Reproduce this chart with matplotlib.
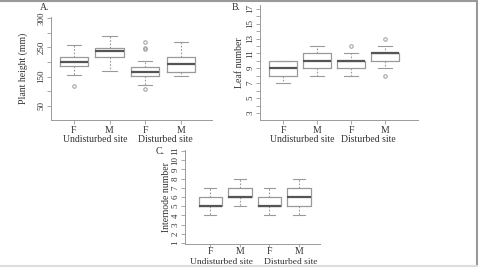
import matplotlib
matplotlib.use('Agg')
import matplotlib.pyplot as plt
from matplotlib.lines import Line2D

plt.rcParams['font.family'] = 'Liberation Serif'

W, H = 478, 267
groups = ['F', 'M', 'F', 'M']
sites = ['Undisturbed site', 'Disturbed site']

# A. plant height (mm)
a_med = [200, 237, 166, 194]
a_q1 = [186, 216, 152, 166]
a_q3 = [216, 247, 182, 218]
a_lo = [155, 169, 122, 151]
a_hi = [256, 289, 202, 268]
a_out = [[119], [], [269, 249, 243, 107], []]
a_ticks = [50, 100, 150, 200, 250, 300, 350]
a_ticklabels = ['50', '', '150', '', '250', '', '300']

# B. leaf number
b_med = [9, 10, 10, 11]
b_q1 = [8, 9, 9, 10]
b_q3 = [10, 11, 10, 11]
b_lo = [7, 8, 8, 9]
b_hi = [10, 12, 11, 12]
b_out = [[], [], [12], [13, 8]]
b_ticks = list(range(3, 18))
b_ticklabels = [str(t) if t % 2 == 1 else '' for t in b_ticks]

# C. internode number
c_med = [5, 6, 5, 6]
c_q1 = [5, 6, 5, 5]
c_q3 = [6, 7, 6, 7]
c_lo = [4, 5, 4, 4]
c_hi = [7, 8, 7, 8]
c_out = [[], [], [], []]
c_ticks = list(range(1, 12))
c_ticklabels = [str(t) for t in c_ticks]

edge = '#9a9a9a'
txt = '#333333'

fig = plt.figure(figsize=(W / 100, H / 100), dpi=100)


def px_axes(left, top, right, bottom):
    return fig.add_axes([left / W, 1 - bottom / H, (right - left) / W, (bottom - top) / H])


def panel(ax, med, q1, q3, lo, hi, out, width, ticks, ticklabels, ylim, xlim, ylabel, lpad):
    stats = []
    for i in range(4):
        stats.append(dict(med=med[i], q1=q1[i], q3=q3[i], whislo=lo[i], whishi=hi[i], fliers=out[i]))
    ax.bxp(stats, positions=[1, 2, 3, 4], widths=width, showcaps=True,
           boxprops=dict(color=edge, linewidth=0.9),
           medianprops=dict(color='#555555', linewidth=1.6),
           whiskerprops=dict(color=edge, linewidth=0.8, linestyle=(0, (1.5, 1.5))),
           capprops=dict(color=edge, linewidth=0.8),
           flierprops=dict(marker='o', markersize=2.5, markerfacecolor='none',
                           markeredgecolor=edge, markeredgewidth=0.7))
    ax.set_xlim(*xlim)
    ax.set_ylim(*ylim)
    ax.set_yticks(ticks)
    ax.set_yticklabels(ticklabels, rotation=90, va='center', fontsize=6.5, color=txt)
    ax.set_xticks([1, 2, 3, 4])
    ax.set_xticklabels(groups, fontsize=7, color=txt)
    ax.tick_params(axis='both', colors=edge, labelcolor=txt, length=3, width=0.6, pad=1)
    for s in ['top', 'right']:
        ax.spines[s].set_visible(False)
    for s in ['left', 'bottom']:
        ax.spines[s].set_color(edge)
        ax.spines[s].set_linewidth(0.7)
    ax.set_ylabel(ylabel, fontsize=7, color=txt, labelpad=lpad)


def site_labels(ax, xs, ypix, size=7):
    for x, s in zip(xs, sites):
        xf = ax.transData.transform((x, 0))[0] / fig.dpi / fig.get_figwidth()
        fig.text(xf, 1 - ypix / H, s, ha='center', va='center', fontsize=size, color=txt)


axA = px_axes(51, 17, 212, 120)
panel(axA, a_med, a_q1, a_q3, a_lo, a_hi, a_out, 0.79, a_ticks, a_ticklabels,
      (2.3, 353), (0.36, 4.87), 'Plant height (mm)', 7)

axB = px_axes(260, 5, 418, 120)
panel(axB, b_med, b_q1, b_q3, b_lo, b_hi, b_out, 0.82, b_ticks, b_ticklabels,
      (2.06, 17.5), (0.32, 4.97), 'Leaf number', 2)

axC = px_axes(185, 150, 320, 244)
panel(axC, c_med, c_q1, c_q3, c_lo, c_hi, c_out, 0.8, c_ticks, c_ticklabels,
      (0.9, 11.1), (0.14, 4.71), 'Internode number', 0)
axC.tick_params(axis='x', length=2, pad=0)

site_labels(axA, [1.6, 3.55], 139)
site_labels(axB, [1.55, 3.5], 139)
site_labels(axC, [1.36, 3.73], 261.5, 6.8)

fig.text(40 / W, 1 - 8 / H, 'A.', fontsize=7, color=txt, va='center')
fig.text(232 / W, 1 - 8 / H, 'B.', fontsize=7, color=txt, va='center')
fig.text(156 / W, 1 - 152 / H, 'C.', fontsize=7, color=txt, va='center')

# frame lines around the figure
fig.add_artist(Line2D([0, 1], [0.998, 0.998], transform=fig.transFigure, color='#999999', linewidth=1.5))
fig.add_artist(Line2D([0.997, 0.997], [0, 1], transform=fig.transFigure, color='#999999', linewidth=1.5))
fig.add_artist(Line2D([0, 1], [0.002, 0.002], transform=fig.transFigure, color='#dddddd', linewidth=1.5))

fig.savefig('out.png', dpi=100)
